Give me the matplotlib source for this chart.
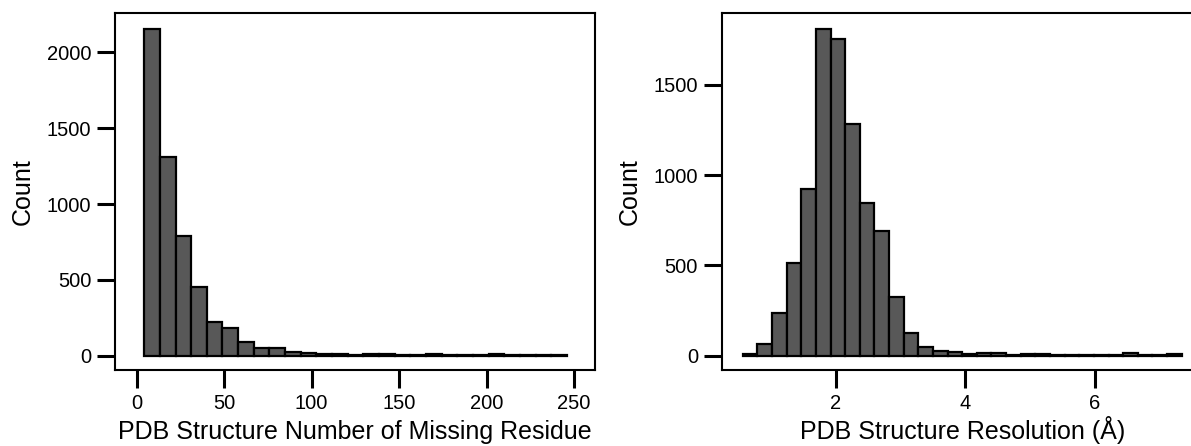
import numpy as np
import matplotlib
matplotlib.use("Agg")
import matplotlib.pyplot as plt

plt.rcParams['font.family'] = ['Liberation Sans', 'DejaVu Sans']

# Left panel: number of missing residues per PDB structure
missing_edges_start = 4.3
missing_edges_stop = 245.9
missing_counts = [2154, 1308, 791, 455, 224, 180, 92, 49, 49, 26,
                  18, 14, 12, 8, 14, 10, 8, 6, 10, 8,
                  6, 8, 10, 6, 6, 8, 8]
missing_ticks = [0, 50, 100, 150, 200, 250]

# Right panel: resolution of PDB structures (Angstrom)
res_edges_start = 0.56
res_edges_stop = 7.34
res_counts = [10, 63, 235, 512, 924, 1811, 1754, 1284, 848, 691,
              327, 127, 50, 28, 18, 10, 12, 12, 5, 8,
              8, 5, 5, 5, 5, 5, 15, 5, 5, 10]
res_ticks = [2, 4, 6]

BAR_COLOR = '#585858'
AX_W = 480   # axes width in px
AX_H = 357   # axes height in px


def draw_hist(ax, start, stop, counts):
    edges = np.linspace(start, stop, len(counts) + 1)
    ax.bar(edges[:-1], counts, width=np.diff(edges), align='edge',
           color=BAR_COLOR, edgecolor='black', linewidth=1.6)


def style_axes(ax, xlabel):
    for sp in ax.spines.values():
        sp.set_linewidth(1.5)
    ax.tick_params(axis='both', which='major', length=13, width=2.2,
                   labelsize=14.5, pad=4, direction='out')
    ax.set_xlabel(xlabel, fontsize=18, va='baseline')
    ax.xaxis.set_label_coords(0.5, -69 / AX_H)
    ax.set_ylabel('Count', fontsize=18, va='center')
    ax.yaxis.set_label_coords(-92 / AX_W, 0.5)


fig = plt.figure(figsize=(11.91, 4.46), dpi=100)

ax1 = fig.add_axes([115 / 1191, 76 / 446, AX_W / 1191, AX_H / 446])
draw_hist(ax1, missing_edges_start, missing_edges_stop, missing_counts)
ax1.set_xlim(-12.4, 262)
ax1.set_ylim(-94, 2259)
ax1.set_xticks(missing_ticks)
ax1.set_yticks([0, 500, 1000, 1500, 2000])
style_axes(ax1, 'PDB Structure Number of Missing Residue')

ax2 = fig.add_axes([721.7 / 1191, 76 / 446, 482 / 1191, AX_H / 446])
draw_hist(ax2, res_edges_start, res_edges_stop, res_counts)
ax2.set_xlim(0.235, 7.68)
ax2.set_ylim(-80, 1898)
ax2.set_xticks(res_ticks)
ax2.set_yticks([0, 500, 1000, 1500])
style_axes(ax2, 'PDB Structure Resolution (Å)')

fig.savefig('out.png', dpi=100)
